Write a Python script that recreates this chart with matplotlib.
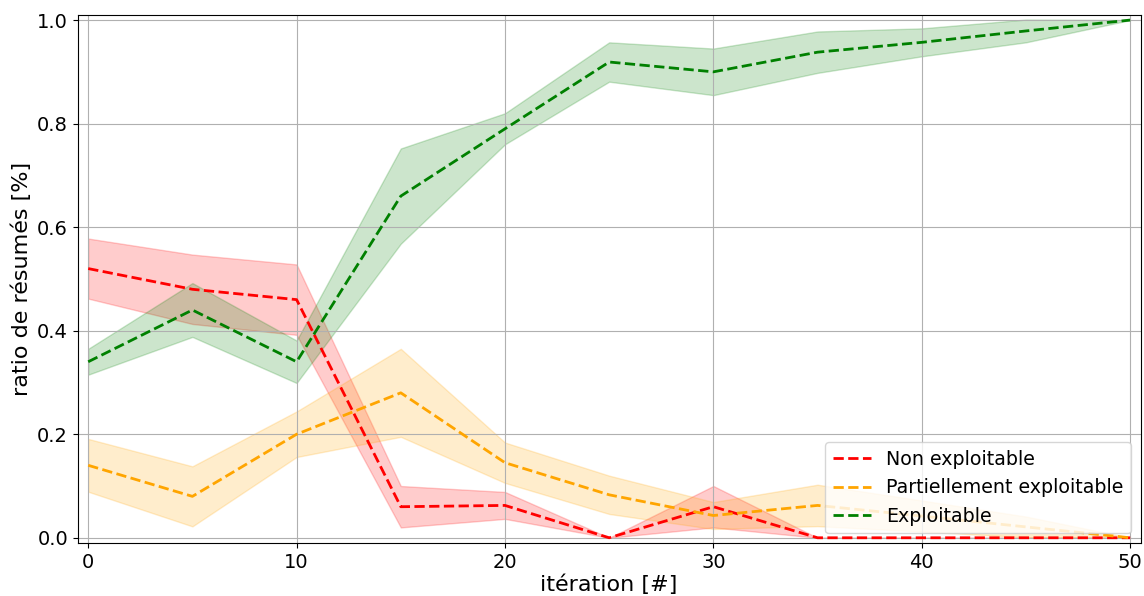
import numpy as np
import matplotlib
matplotlib.use("Agg")
import matplotlib.pyplot as plt

# iterations and mean ratios
iterations = [0, 5, 10, 15, 20, 25, 30, 35, 40, 45, 50]

non_mean = [0.52, 0.48, 0.46, 0.06, 0.0625, 0.0, 0.06, 0.0, 0.0, 0.0, 0.0]
non_err = [0.058, 0.067, 0.068, 0.04, 0.026, 0.0, 0.04, 0.0, 0.0, 0.0, 0.0]

part_mean = [0.14, 0.08, 0.20, 0.28, 0.145, 0.083, 0.043, 0.0625, 0.042, 0.021, 0.0]
part_err = [0.051, 0.058, 0.044, 0.085, 0.039, 0.037, 0.026, 0.04, 0.03, 0.02, 0.0]

expl_mean = [0.34, 0.44, 0.34, 0.66, 0.79, 0.919, 0.90, 0.938, 0.957, 0.979, 1.0]
expl_err = [0.025, 0.052, 0.041, 0.092, 0.03, 0.038, 0.045, 0.04, 0.027, 0.022, 0.0]

series = [
    ("Non exploitable", non_mean, non_err, "red"),
    ("Partiellement exploitable", part_mean, part_err, "orange"),
    ("Exploitable", expl_mean, expl_err, "green"),
]

fig = plt.figure(figsize=(11.44, 5.96), dpi=100)
ax = fig.add_axes([0.068, 0.089, 0.929, 0.886])

x = np.array(iterations)
for label, m, e, c in series:
    m = np.array(m); e = np.array(e)
    ax.plot(x, m, "--", color=c, lw=2, label=label)
    ax.fill_between(x, m - e, m + e, color=c, alpha=0.2)

ax.set_xlim(-0.5, 50.5)
ax.set_ylim(-0.01, 1.01)
ax.grid(True)
ax.tick_params(labelsize=14)
ax.set_xlabel("itération [#]", fontsize=16, labelpad=2)
ax.set_ylabel("ratio de résumés [%]", fontsize=16)
ax.legend(loc="lower right", fontsize=13.7)

fig.savefig("out.png", dpi=100)
